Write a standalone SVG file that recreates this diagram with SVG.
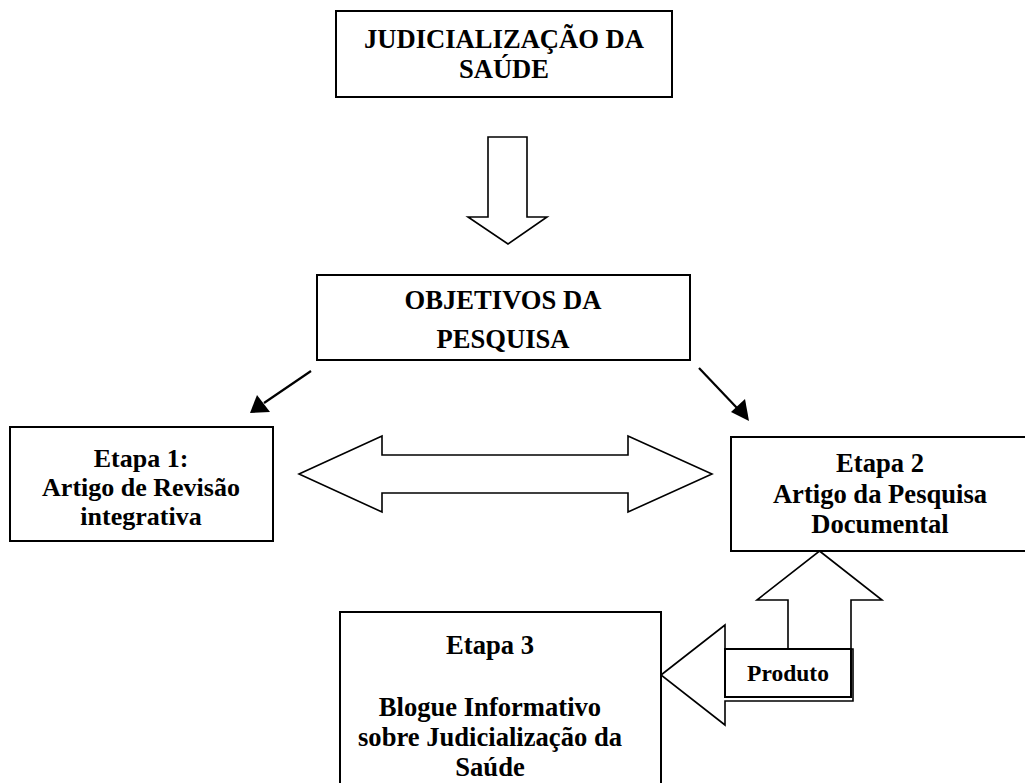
<svg xmlns="http://www.w3.org/2000/svg" width="1025" height="783" viewBox="0 0 1025 783">
<style>
.box{fill:#fff;stroke:#000;stroke-width:2}
.blk{fill:#fff;stroke:#000;stroke-width:1.6;stroke-linejoin:miter}
.t{font-family:"Liberation Serif","Times New Roman",serif;font-weight:bold;font-size:26.6px;fill:#000;text-anchor:middle}
.ln{stroke:#000;stroke-width:2.2;fill:none}
.hd{fill:#000}
</style>
<rect width="1025" height="783" fill="#fff"/>
<g id="connectors">
<polygon class="blk" points="488,137 527,137 527,217 547,217 508,244 468,217 488,217"/>
<line class="ln" x1="311" y1="371" x2="264" y2="403"/>
<polygon class="hd" points="250,413 257,395 270,412"/>
<line class="ln" x1="699" y1="368" x2="737" y2="408"/>
<polygon class="hd" points="749,421 731,412 745,399"/>
<polygon class="blk" points="299,474 382,436 382,455 628,455 628,436 712,474 628,512 628,493 382,493 382,512"/>
<polygon class="blk" points="819.5,551 882,600 851,600 851,649 788,649 788,600 757,600"/>
<polygon class="blk" points="661,675 725,625 725,649 853,649 853,701 725,701 725,725"/>
</g>
<g id="n-judicializacao">
<rect class="box" x="336" y="11" width="336" height="86"/>
<text class="t" x="504" y="48">JUDICIALIZAÇÃO DA</text>
<text class="t" x="504" y="78">SAÚDE</text>
</g>
<g id="n-objetivos">
<rect class="box" x="317" y="275" width="373" height="85"/>
<text class="t" x="503" y="309">OBJETIVOS DA</text>
<text class="t" x="503" y="348">PESQUISA</text>
</g>
<g id="n-etapa1">
<rect class="box" x="10" y="427" width="263" height="114"/>
<text class="t" x="141" y="467" style="font-size:26px">Etapa 1:</text>
<text class="t" x="141" y="496" style="font-size:26px">Artigo de Revisão</text>
<text class="t" x="141" y="525" style="font-size:26px">integrativa</text>
</g>
<g id="n-etapa2">
<rect class="box" x="731" y="437" width="300" height="114"/>
<text class="t" x="880" y="472">Etapa 2</text>
<text class="t" x="880" y="503">Artigo da Pesquisa</text>
<text class="t" x="880" y="533">Documental</text>
</g>
<g id="n-produto">
<rect class="box" x="725" y="649" width="126" height="48"/>
<text class="t" x="788" y="681" style="font-size:23.5px">Produto</text>
</g>
<g id="n-etapa3">
<rect class="box" x="340" y="612" width="321" height="190"/>
<text class="t" x="490" y="654">Etapa 3</text>
<text class="t" x="490" y="716">Blogue Informativo</text>
<text class="t" x="490" y="746">sobre Judicialização da</text>
<text class="t" x="490" y="776">Saúde</text>
</g>
</svg>
